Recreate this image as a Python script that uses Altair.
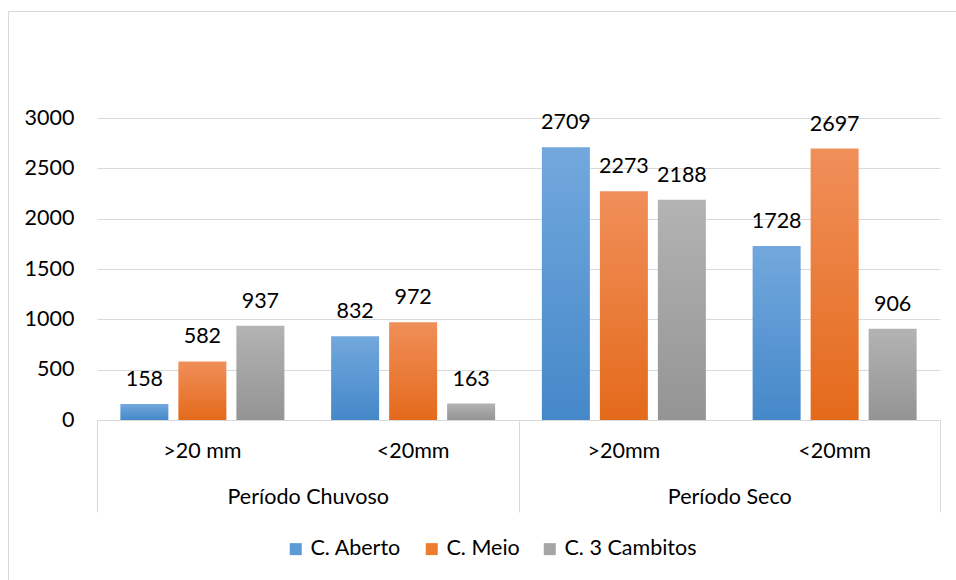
import altair as alt
import pandas as pd

# Category levels (outer period, inner rainfall class) and the three series
periods = ["Período Chuvoso", "Período Chuvoso", "Período Seco", "Período Seco"]
classes = [">20 mm", "<20mm", ">20mm", "<20mm"]
series = ["C. Aberto", "C. Meio", "C. 3 Cambitos"]

aberto = [158, 832, 2709, 1728]
meio = [582, 972, 2273, 2697]
cambitos = [937, 163, 2188, 906]

y_ticks = [0, 500, 1000, 1500, 2000, 2500, 3000]

FONT = "Lato"
FS = 21.5
TEXT = "#000000"
GRID = "#D9D9D9"

keys = [f"{p}|{c}" for p, c in zip(periods, classes)]
rows = []
for name, vals in zip(series, [aberto, meio, cambitos]):
    for k, p, v in zip(keys, periods, vals):
        rows.append({"key": k, "period": p, "series": name, "value": v})
df = pd.DataFrame(rows)

period_df = pd.DataFrame({"period": ["Período Chuvoso", "Período Seco"]})
frame_df = pd.DataFrame({"f": [0]})

W, H = 843, 302


def grad(top, bottom):
    return alt.LinearGradient(
        gradient="linear",
        stops=[alt.GradientStop(color=top, offset=0),
               alt.GradientStop(color=bottom, offset=1)],
        x1=0, x2=0, y1=0, y2=1,
    )


fills = {
    "C. Aberto": grad("#72A8DD", "#4588C9"),
    "C. Meio": grad("#F08F5A", "#E46A1B"),
    "C. 3 Cambitos": grad("#B3B3B3", "#949494"),
}
solid = ["#5B9BD5", "#ED7D31", "#A5A5A5"]

x_enc = alt.X(
    "key:N",
    sort=keys,
    scale=alt.Scale(domain=keys, paddingInner=0, paddingOuter=0),
    axis=alt.Axis(
        title=None, orient="bottom",
        labelExpr="split(datum.label, '|')[1]",
        ticks=False, domain=True, domainColor=GRID, domainWidth=1,
        grid=False, labelPadding=20, labelAngle=0,
        labelFont=FONT, labelFontSize=FS, labelColor=TEXT,
    ),
)
xoff_enc = alt.XOffset(
    "series:N",
    scale=alt.Scale(domain=series, paddingInner=0.1724, paddingOuter=0.403),
)
y_enc = alt.Y(
    "value:Q",
    scale=alt.Scale(domain=[0, 3000], nice=False),
    axis=alt.Axis(
        title=None, values=y_ticks, format="d", domain=False, ticks=False,
        grid=True, gridColor=GRID, gridWidth=1, labelPadding=23,
        labelFont=FONT, labelFontSize=FS, labelColor=TEXT,
    ),
)

base = alt.Chart(df)

bar_layers = [
    base.transform_filter(alt.datum.series == s)
    .mark_bar(color=fills[s])
    .encode(x=x_enc, xOffset=xoff_enc, y=y_enc)
    for s in series
]

labels = base.mark_text(
    dy=-18, baseline="alphabetic", fontSize=FS, font=FONT, color=TEXT
).encode(x=x_enc, xOffset=xoff_enc, y=y_enc, text="value:Q")

legend_pts = base.mark_point(shape="square", filled=True, opacity=0).encode(
    x=x_enc, xOffset=xoff_enc, y=y_enc,
    color=alt.Color(
        "series:N",
        scale=alt.Scale(domain=series, range=solid),
        legend=alt.Legend(
            title=None, orient="none", legendX=188, legendY=420,
            direction="horizontal", symbolType="square", symbolSize=144,
            symbolOpacity=1, symbolStrokeWidth=0, labelOffset=4,
            columnPadding=19, padding=0,
            labelFont=FONT, labelFontSize=FS, labelColor=TEXT,
        ),
    ),
)

inner = alt.layer(*bar_layers, labels, legend_pts)

# Outer category level: ticks on band edges, labels centred under each period
outer = alt.Chart(period_df).mark_bar(opacity=0).encode(
    x=alt.X(
        "period:N",
        scale=alt.Scale(paddingInner=0, paddingOuter=0),
        axis=alt.Axis(
            title=None, orient="bottom", tickBand="extent", tickSize=92,
            tickColor=GRID, tickWidth=1, domain=False, grid=False,
            labelPadding=-26, labelAngle=0,
            labelFont=FONT, labelFontSize=FS, labelColor=TEXT,
        ),
    )
)

# Thin frame around the chart area
frame = alt.Chart(frame_df).mark_rect(
    fill=None, stroke=GRID, strokeWidth=1
).encode(
    x=alt.value(-88.5), x2=alt.value(W + 40),
    y=alt.value(-106.5), y2=alt.value(H + 200),
)

chart = (
    alt.layer(frame, inner, outer)
    .resolve_scale(x="independent")
    .properties(
        width=W, height=H,
        autosize=alt.AutoSizeParams(type="none"),
        padding={"left": 97, "top": 118, "right": 16, "bottom": 160},
        background="white",
    )
    .configure_view(stroke=None)
)

chart.save("out.html", embed_options={"renderer": "svg", "actions": False})
